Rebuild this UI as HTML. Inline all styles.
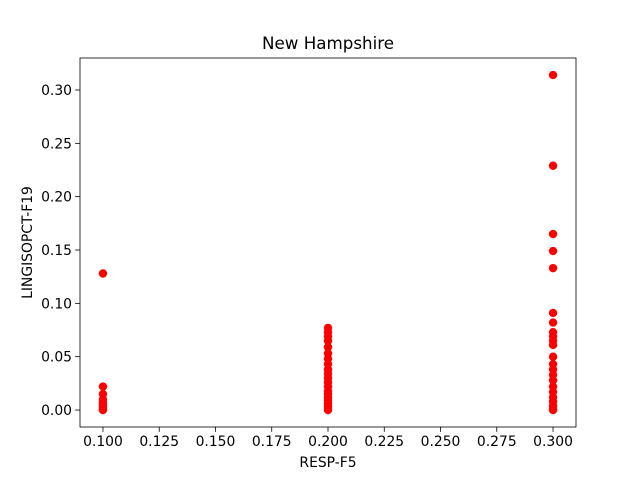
<!DOCTYPE html>
<html><head><meta charset="utf-8"><style>body{margin:0;background:#fff}svg{display:block;font-family:"DejaVu Sans","Liberation Sans",sans-serif}</style></head>
<body>
<svg id="chart" width="640" height="480"></svg>
<script>
const xs01 = [0.128,0.022,0.015,0.01,0.007,0.005,0.003,0.001,0];
const xs02 = [0.077,0.073,0.069,0.065,0.059,0.053,0.048,0.043,0.038,0.034,0.03,0.026,0.022,0.018,0.015,0.012,0.009,0.006,0.004,0.002,0];
const xs03 = [0.314,0.229,0.165,0.149,0.133,0.091,0.082,0.073,0.069,0.065,0.061,0.05,0.043,0.038,0.033,0.028,0.022,0.017,0.012,0.008,0.004,0.001,0];
const groupX = [0.1,0.2,0.3];
const xTicks = ["0.100","0.125","0.150","0.175","0.200","0.225","0.250","0.275","0.300"];
const yTicks = ["0.00","0.05","0.10","0.15","0.20","0.25","0.30"];

const L=80,R=576,T=58,B=427;
const xMin=0.0898,xMax=0.3102,yMin=-0.0159,yMax=0.33;
const X=v=>L+(v-xMin)/(xMax-xMin)*(R-L);
const Y=v=>B-(v-yMin)/(yMax-yMin)*(B-T);
const svg=document.getElementById('chart');const NS='http://www.w3.org/2000/svg';
function mk(t,a,p){const e=document.createElementNS(NS,t);for(const k in a)e.setAttribute(k,a[k]);(p||svg).appendChild(e);return e;}
let e;
e=mk('rect',{x:0,y:0,width:640,height:480,fill:'#fff'});


const groups=[xs01,xs02,xs03];
groups.forEach((arr,gi)=>{arr.forEach(v=>{
 const c=mk('circle',{cx:X(groupX[gi]),cy:Y(v),r:4.2,fill:'#ff0000'});
 
 
});});
e=mk('rect',{x:L,y:T,width:R-L,height:B-T,fill:'none',stroke:'#000','stroke-width':0.8});


xTicks.forEach(t=>{const x=X(parseFloat(t));
 mk('line',{x1:x,x2:x,y1:B,y2:B+4.9,stroke:'#000','stroke-width':0.8});
 const tx=mk('text',{x:x,y:B+19,'text-anchor':'middle','font-size':'13.9px',fill:'#000'});tx.textContent=t;
 
 
});
yTicks.forEach(t=>{const y=Y(parseFloat(t));
 mk('line',{x1:L-4.9,x2:L,y1:y,y2:y,stroke:'#000','stroke-width':0.8});
 const tx=mk('text',{x:L-8,y:y+5,'text-anchor':'end','font-size':'13.9px',fill:'#000'});tx.textContent=t;
 
 
});
e=mk('text',{x:(L+R)/2,y:49,'text-anchor':'middle','font-size':'16.7px'});e.textContent='New Hampshire';


e=mk('text',{x:(L+R)/2,y:467,'text-anchor':'middle','font-size':'13.9px'});e.textContent='RESP-F5';


e=mk('text',{x:0,y:0,'text-anchor':'middle','font-size':'13.9px',transform:'translate(32,'+((T+B)/2)+') rotate(-90)'});e.textContent='LINGISOPCT-F19';


</script>
</body></html>
